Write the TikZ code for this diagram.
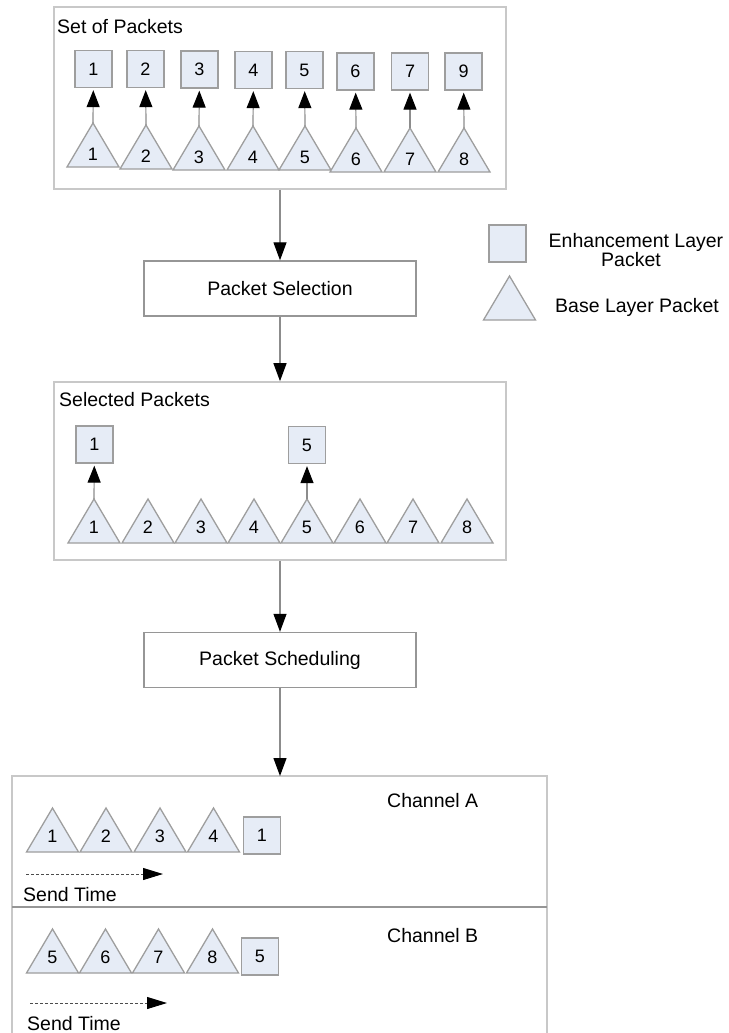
\documentclass[tikz,border=0pt]{standalone}
\usepackage{fontspec}
\setmainfont{Liberation Sans}
\usetikzlibrary{arrows.meta}

\definecolor{pktfill}{RGB}{230,236,246}
\definecolor{pktline}{RGB}{158,158,158}
\definecolor{boxline}{RGB}{200,200,200}
\definecolor{stepline}{RGB}{150,150,150}
\definecolor{wire}{RGB}{140,140,140}

% base layer packet: name, centre x, base y, label, label height above base
\newcommand\basepkt[5]{%
  \draw[tri] ({#2-26},#3) -- (#2,{#3-44}) -- ({#2+26},#3) -- cycle;
  \coordinate (#1) at (#2,{#3-44});
  \node[digit] (#1d) at (#2,{#3-#5}) {#4};
}

\begin{document}
\begin{tikzpicture}[x=1pt,y=-1pt,
  lbl/.style={font=\fontsize{19.5}{23}\selectfont, inner sep=0},
  digit/.style={font=\fontsize{18}{21}\selectfont, inner sep=0},
  sq/.style={draw=pktline, fill=pktfill, line width=1.3pt, minimum width=37pt,
    minimum height=37pt, inner sep=0, font=\fontsize{18}{21}\selectfont},
  tri/.style={draw=pktline, fill=pktfill, line width=1.3pt},
  container/.style={draw=boxline, line width=1.6pt, inner sep=0},
  stagebox/.style={draw=stepline, line width=1.4pt, minimum width=272pt,
    minimum height=55pt, inner sep=0, font=\fontsize{19.5}{23}\selectfont},
  flow/.style={draw=wire, line width=1.2pt,
    -{Triangle[length=18pt,width=13pt,color=black,fill=black]}},
  link/.style={draw=wire, line width=1.2pt, shorten >=2pt,
    -{Triangle[length=17pt,width=13pt,color=black,fill=black]}},
  timeline/.style={draw=black!70, line width=1pt, dash pattern=on 3pt off 2pt,
    -{Triangle[length=20pt,width=12pt,color=black,fill=black]}}
]
\useasboundingbox (0,0) rectangle (728,1033);

% ---------- set of packets ----------
\node[container, minimum width=452pt, minimum height=182pt] (setbox) at (280,98) {};
\node[lbl, anchor=base west] (settitle) at (57,34) {Set of Packets};
\foreach \i/\sx/\sy/\sl/\tx/\ty in {
  1/93.5/69/1/93/167, 2/145.5/69/2/146/169, 3/199.5/69.5/3/199/170,
  4/253.5/70/4/253/170, 5/304.5/70/5/305/170, 6/355.5/71.5/6/356/172,
  7/410/71.5/7/410/172, 8/463.5/71.5/9/464/172}{
  \node[sq] (es\i) at (\sx,\sy) {\sl};
  \basepkt{bs\i}{\tx}{\ty}{\i}{13}
  \draw[link] (bs\i) -- (es\i);
}

% ---------- legend ----------
\node[sq] (legsq) at (507.5,243.5) {};
\basepkt{legtri}{509.5}{320}{}{16}
\node[lbl, anchor=base] (legE1) at (636,247) {Enhancement Layer};
\node[lbl, anchor=base] (legE2) at (631,266) {Packet};
\node[lbl, anchor=base] (legB) at (637,312) {Base Layer Packet};

% ---------- packet selection ----------
\node[stagebox] (select) at (280,288.5) {Packet Selection};

% ---------- selected packets ----------
\node[container, minimum width=452pt, minimum height=178pt] (selbox) at (280,471) {};
\node[lbl, anchor=base west] (seltitle) at (59,406) {Selected Packets};
\foreach \i/\tx in {1/94, 2/148, 3/201, 4/254, 5/307, 6/360, 7/413, 8/467}{
  \basepkt{ss\i}{\tx}{543}{\i}{16}
}
\node[sq] (se1) at (94.5,444.5) {1};
\node[sq] (se5) at (307,445) {5};
\draw[link] (ss1) -- (se1);
\draw[link] (ss5) -- (se5);

% ---------- packet scheduling ----------
\node[stagebox] (sched) at (280,660) {Packet Scheduling};

% ---------- channels ----------
\coordinate (chtop) at (280,776);
\draw[container] (12,1040) -- (12,776) -- (547,776) -- (547,1040);
\draw[draw=stepline, line width=1.4pt] (12,907) -- (547,907);
\node[lbl, anchor=base west] (chA) at (387,807) {Channel A};
\node[lbl, anchor=base west] (chB) at (387,942) {Channel B};

\foreach \i/\tx in {1/52.5, 2/106, 3/160, 4/213.5}{
  \basepkt{ca\i}{\tx}{852}{\i}{16}
}
\node[sq] (cae) at (262,835.5) {1};
\foreach \i/\tx in {5/52.5, 6/105.5, 7/158.5, 8/212.5}{
  \basepkt{cb\i}{\tx}{973}{\i}{16}
}
\node[sq] (cbe) at (260,956.5) {5};

\coordinate (ta0) at (26,874);
\coordinate (ta1) at (163,874);
\draw[timeline] (ta0) -- (ta1);
\node[lbl, anchor=base west] (sendA) at (23,901) {Send Time};
\coordinate (tb0) at (30,1003);
\coordinate (tb1) at (167,1003);
\draw[timeline] (tb0) -- (tb1);
\node[lbl, anchor=base west] (sendB) at (27,1030) {Send Time};

% ---------- flow between stages ----------
\draw[flow] (setbox.south) -- (select.north);
\draw[flow] (select.south) -- (selbox.north);
\draw[flow] (selbox.south) -- (sched.north);
\draw[flow] (sched.south) -- (chtop);
\end{tikzpicture}
\end{document}
